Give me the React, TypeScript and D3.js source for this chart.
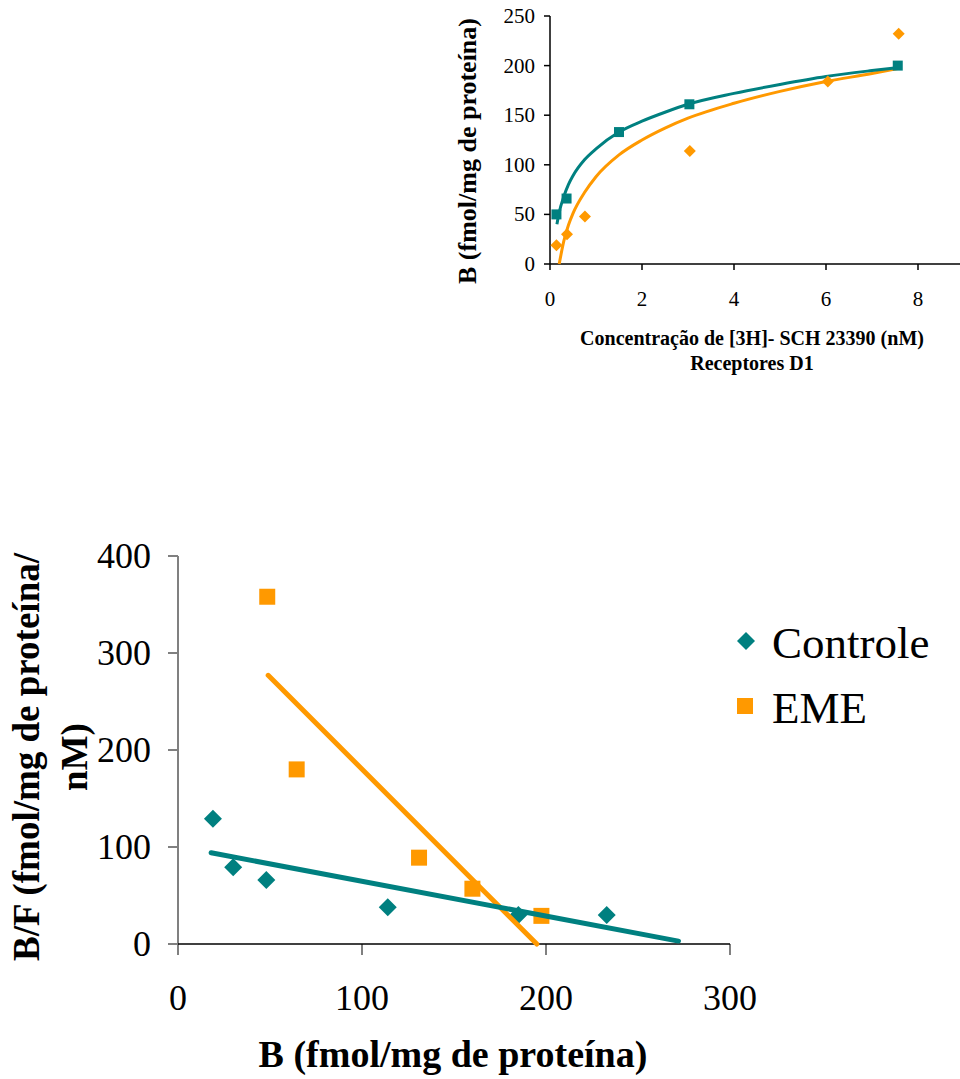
import * as d3 from 'd3';

// --- Saturation curve (top chart) ---
const satTicksX = [0, 2, 4, 6, 8];
const satTicksY = [0, 50, 100, 150, 200, 250];
// teal squares
const satTealConc = [0.14, 0.36, 1.5, 3.03, 7.56];
const satTealB = [50, 66, 133, 161, 200];
// orange diamonds
const satOrangeConc = [0.14, 0.37, 0.76, 3.04, 6.04, 7.58];
const satOrangeB = [19, 30, 48, 114, 184, 232];
// trend curves
const satTealFitConc = [0.15, 0.2, 0.3, 0.4, 0.5, 0.75, 1, 1.5, 2, 2.5, 3, 4, 5, 6, 7, 7.56];
const satTealFitB = [40, 52, 68, 80, 89, 105, 116, 133, 144, 153, 161, 172, 181, 189, 195, 198];
const satOrangeFitConc = [0.2, 0.3, 0.4, 0.5, 0.75, 1, 1.5, 2, 2.5, 3, 4, 5, 6, 7, 7.56];
const satOrangeFitB = [0, 23, 39, 51, 72, 88, 110, 125, 137, 147, 162, 174, 184, 192, 197];

// --- Scatchard plot (bottom chart) ---
const scTicksX = [0, 100, 200, 300];
const scTicksY = [0, 100, 200, 300, 400];
const controleB = [19, 30, 48, 114, 185, 233];
const controleBF = [129, 79, 66, 38, 30, 30];
const emeB = [48.5, 64.5, 131, 160, 197.5];
const emeBF = [358, 180, 89, 57, 29];
const controleFitB = [18, 272];
const controleFitBF = [94, 3];
const emeFitB = [49, 195];
const emeFitBF = [277, 0];

const TEAL = '#008080';
const ORANGE = '#FF9900';
const FONT = '"Liberation Serif", "Times New Roman", serif';

const zip = (xs: number[], ys: number[]) => xs.map((x, i) => [x, ys[i]] as [number, number]);

const square = (area: number) => d3.symbol().type(d3.symbolSquare).size(area)() as string;

export default function App() {
    // top scales
    const sx = d3.scaleLinear().domain([0, 10]).range([550, 1010]);
    const sy = d3.scaleLinear().domain([0, 250]).range([264, 16]);
    // bottom scales
    const bx = d3.scaleLinear().domain([0, 300]).range([178, 730]);
    const by = d3.scaleLinear().domain([0, 400]).range([944, 556]);

    const satLine = d3.line<[number, number]>()
        .x(d => sx(d[0]))
        .y(d => sy(d[1]))
        .curve(d3.curveMonotoneX);
    const scLine = d3.line<[number, number]>()
        .x(d => bx(d[0]))
        .y(d => by(d[1]));

    const smallSquare = square(100);
    const smallDiamond = square(72);
    const bigSquare = square(256);
    const bigDiamond = square(162);

    return (
        <div style={{ position: 'absolute', left: 0, top: 0 }}>
            <svg width={960} height={1079} style={{ display: 'block', fontFamily: FONT }}>
                <rect width={960} height={1079} fill="#fff" />

                {/* ===== top chart ===== */}
                <g>
                    <line x1={sx(0)} x2={sx(0)} y1={sy(250)} y2={sy(0)} stroke="#000" strokeWidth={1.5} />
                    <line x1={sx(0)} x2={960} y1={sy(0)} y2={sy(0)} stroke="#000" strokeWidth={1.5} />
                    {satTicksY.map(t => (
                        <g key={'sy' + t}>
                            <line x1={sx(0) - 6} x2={sx(0)} y1={sy(t)} y2={sy(t)} stroke="#000" strokeWidth={1.5} />
                            <text x={535} y={sy(t) + 7} textAnchor="end" fontSize={21}>{t}</text>
                        </g>
                    ))}
                    {satTicksX.map(t => (
                        <g key={'sx' + t}>
                            <line x1={sx(t)} x2={sx(t)} y1={sy(0)} y2={sy(0) + 6} stroke="#000" strokeWidth={1.5} />
                            <text x={sx(t)} y={306} textAnchor="middle" fontSize={21}>{t}</text>
                        </g>
                    ))}

                    <path d={satLine(zip(satOrangeFitConc, satOrangeFitB)) || ''} fill="none" stroke={ORANGE} strokeWidth={3} />
                    <path d={satLine(zip(satTealFitConc, satTealFitB)) || ''} fill="none" stroke={TEAL} strokeWidth={3} />

                    {zip(satOrangeConc, satOrangeB).map((d, i) => (
                        <path key={'so' + i} d={smallDiamond} fill={ORANGE}
                              transform={`translate(${sx(d[0])},${sy(d[1])}) rotate(45)`} />
                    ))}
                    {zip(satTealConc, satTealB).map((d, i) => (
                        <path key={'st' + i} d={smallSquare} fill={TEAL}
                              transform={`translate(${sx(d[0])},${sy(d[1])})`} />
                    ))}

                    <text transform="translate(476,151) rotate(-90)" textAnchor="middle"
                          fontSize={26} fontWeight="bold">B (fmol/mg de proteína)</text>
                    <text x={752} y={345} textAnchor="middle" fontSize={20} fontWeight="bold">
                        Concentração de [3H]- SCH 23390 (nM)
                    </text>
                    <text x={752} y={370} textAnchor="middle" fontSize={20} fontWeight="bold">Receptores D1</text>
                </g>

                {/* ===== bottom chart ===== */}
                <g>
                    <line x1={bx(0)} x2={bx(0)} y1={by(400)} y2={by(0)} stroke="#808080" strokeWidth={2} />
                    {scTicksY.map(t => (
                        <g key={'by' + t}>
                            <line x1={bx(0) - 10} x2={bx(0)} y1={by(t)} y2={by(t)} stroke="#808080" strokeWidth={2} />
                            <text x={151} y={by(t) + 12} textAnchor="end" fontSize={36}>{t}</text>
                        </g>
                    ))}
                    {scTicksX.map(t => (
                        <g key={'bx' + t}>
                            <line x1={bx(t)} x2={bx(t)} y1={by(0)} y2={by(0) + 11} stroke="#808080" strokeWidth={2} />
                            <text x={bx(t)} y={1010} textAnchor="middle" fontSize={36}>{t}</text>
                        </g>
                    ))}
                    <line x1={bx(0)} x2={bx(300)} y1={by(0)} y2={by(0)} stroke="#000" strokeWidth={1.5} />

                    {zip(controleB, controleBF).map((d, i) => (
                        <path key={'cd' + i} d={bigDiamond} fill={TEAL}
                              transform={`translate(${bx(d[0])},${by(d[1])}) rotate(45)`} />
                    ))}
                    {zip(emeB, emeBF).map((d, i) => (
                        <path key={'ed' + i} d={bigSquare} fill={ORANGE}
                              transform={`translate(${bx(d[0])},${by(d[1])})`} />
                    ))}

                    <path d={scLine(zip(emeFitB, emeFitBF)) || ''} fill="none" stroke={ORANGE}
                          strokeWidth={5} strokeLinecap="round" />
                    <path d={scLine(zip(controleFitB, controleFitBF)) || ''} fill="none" stroke={TEAL}
                          strokeWidth={5} strokeLinecap="round" />

                    <text transform="translate(39,757) rotate(-90)" textAnchor="middle"
                          fontSize={37} fontWeight="bold">B/F (fmol/mg de proteína/</text>
                    <text transform="translate(87,757) rotate(-90)" textAnchor="middle"
                          fontSize={37} fontWeight="bold">nM)</text>
                    <text x={453} y={1067} textAnchor="middle" fontSize={38} fontWeight="bold">
                        B (fmol/mg de proteína)
                    </text>

                    {/* legend */}
                    <path d={bigDiamond} fill={TEAL} transform="translate(746,641) rotate(45)" />
                    <text x={772} y={658} fontSize={45}>Controle</text>
                    <path d={bigSquare} fill={ORANGE} transform="translate(745,706)" />
                    <text x={772} y={723} fontSize={45}>EME</text>
                </g>
            </svg>
        </div>
    );
}
